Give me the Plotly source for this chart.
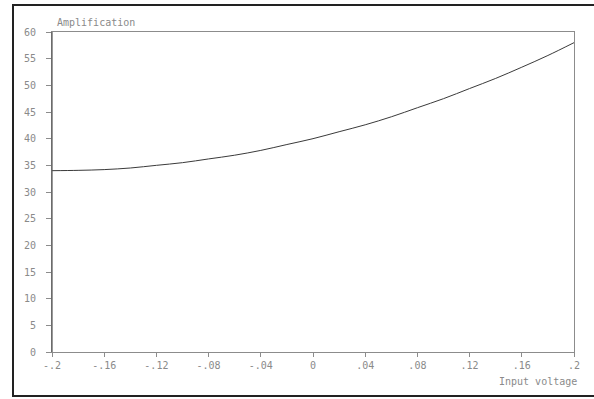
import plotly.graph_objects as go

# Input voltage (V) and measured amplification
voltage = [-0.20, -0.18, -0.16, -0.14, -0.12, -0.10, -0.08, -0.06, -0.04, -0.02,
           0.00, 0.02, 0.04, 0.06, 0.08, 0.10, 0.12, 0.14, 0.16, 0.18, 0.20]
amplification = [34.0, 34.06, 34.2, 34.5, 35.0, 35.5, 36.2, 36.9, 37.8, 38.9,
                 40.0, 41.3, 42.6, 44.1, 45.8, 47.5, 49.4, 51.3, 53.4, 55.6, 58.0]

x_tickvals = [-0.2, -0.16, -0.12, -0.08, -0.04, 0, 0.04, 0.08, 0.12, 0.16, 0.2]
x_ticktext = ["-.2", "-.16", "-.12", "-.08", "-.04", "0", ".04", ".08", ".12", ".16", ".2"]
y_tickvals = [0, 5, 10, 15, 20, 25, 30, 35, 40, 45, 50, 55, 60]

FONT = "DejaVu Sans Mono, Liberation Mono, monospace"
GREY = "#8a8a8a"

fig = go.Figure()
fig.add_trace(go.Scatter(
    x=voltage, y=amplification, mode="lines",
    line=dict(color="#3a3a3a", width=1, shape="spline"),
    hoverinfo="skip",
))

W, H = 594, 399
L, R, T, B = 52, 20, 32, 47
pw, ph = W - L - R, H - T - B

fig.update_layout(
    width=W, height=H,
    margin=dict(l=L, r=R, t=T, b=B),
    paper_bgcolor="white", plot_bgcolor="white",
    showlegend=False,
    font=dict(family=FONT, size=10, color=GREY),
    xaxis=dict(
        range=[-0.2, 0.2], tickvals=x_tickvals, ticktext=x_ticktext,
        showgrid=False, zeroline=False,
        showline=True, linecolor="#8c8c8c", linewidth=1, mirror=True,
        ticks="outside", ticklen=4, tickcolor="#8c8c8c",
        tickfont=dict(family=FONT, size=10, color=GREY),
    ),
    yaxis=dict(
        range=[0, 60], tickvals=y_tickvals,
        showgrid=False, zeroline=False,
        showline=True, linecolor="#8c8c8c", linewidth=1, mirror=True,
        ticks="outside", ticklen=5, tickcolor="#8c8c8c",
        tickfont=dict(family=FONT, size=10, color=GREY),
        ticklabelstandoff=8,
    ),
)

# left axis drawn darker, as in the original plot
fig.add_shape(type="line", xref="paper", yref="paper", x0=0, x1=0, y0=0, y1=1,
              line=dict(color="#555555", width=1.2))

# outer frame around the whole chart
fig.add_shape(type="rect", xref="paper", yref="paper",
              x0=(13 - L) / pw, x1=(W + 10 - L) / pw,
              y0=(T + ph - 396) / ph, y1=(T + ph - 5) / ph,
              line=dict(color="#222222", width=2), layer="above")

fig.add_annotation(text="Amplification", xref="paper", yref="paper",
                   x=(55 - L) / pw, y=(T + ph - 22) / ph,
                   xanchor="left", yanchor="middle", showarrow=False,
                   font=dict(family=FONT, size=10, color=GREY))
fig.add_annotation(text="Input voltage", xref="paper", yref="paper",
                   x=(579 - L) / pw, y=(T + ph - 381) / ph,
                   xanchor="right", yanchor="middle", showarrow=False,
                   font=dict(family=FONT, size=10, color=GREY))

fig.write_html("out.html")
